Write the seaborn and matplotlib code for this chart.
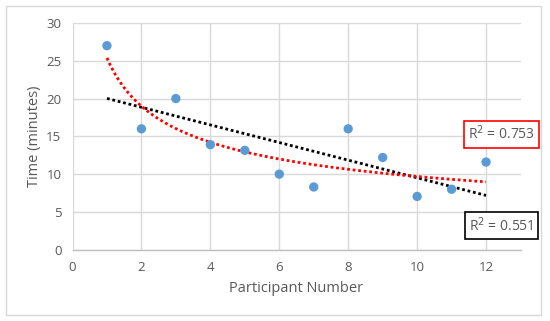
import numpy as np
import pandas as pd
import matplotlib
matplotlib.use("Agg")
import matplotlib.pyplot as plt
from matplotlib.patches import Rectangle
import seaborn as sns

participants = [1, 2, 3, 4, 5, 6, 7, 8, 9, 10, 11, 12]
minutes = [27, 16, 20, 13.9, 13.15, 10, 8.3, 16, 12.2, 7.05, 8.0, 11.6]
x_ticks = [0, 2, 4, 6, 8, 10, 12]
y_ticks = [0, 5, 10, 15, 20, 25, 30]
r2_pow_label = "R$^2$ = 0.753"
r2_lin_label = "R$^2$ = 0.551"

sns.set_theme(style="white")
plt.rcParams['font.family'] = ['Open Sans', 'DejaVu Sans']

df = pd.DataFrame({"Participant Number": participants, "Time (minutes)": minutes})

fig = plt.figure(figsize=(5.5, 3.21), dpi=100)
ax = fig.add_axes([72.5/550, 1-249.7/321, 448/550, (249.7-23)/321])

grid_c = "#D9D9D9"
text_c = "#595959"

xs = np.array(participants, dtype=float)
ys = np.array(minutes, dtype=float)
b, a = np.polyfit(xs, ys, 1)
bp, ap = np.polyfit(np.log(xs), np.log(ys), 1)
xx = np.linspace(1, 12, 200)

ax.plot(xx, a + b*xx, color="black", lw=2, linestyle=(0, (1, 1)), zorder=3)
ax.plot(xx, np.exp(ap) * xx**bp, color="#FF0000", lw=2, linestyle=(0, (1, 1)), zorder=3)

sns.scatterplot(data=df, x="Participant Number", y="Time (minutes)", ax=ax,
                color="#5B9BD5", s=45, edgecolor="none", zorder=4)

ax.set_xlim(0, 13)
ax.set_ylim(0, 30)
ax.set_xticks(x_ticks)
ax.set_yticks(y_ticks)
ax.grid(True, color=grid_c, lw=1)
ax.set_axisbelow(True)
for s in ["top", "right", "left"]:
    ax.spines[s].set_visible(False)
ax.spines["bottom"].set_color("#BFBFBF")
ax.spines["bottom"].set_linewidth(1)
ax.tick_params(axis="both", length=0, labelsize=9.5, colors=text_c, pad=8)
ax.set_xlabel("Participant Number", fontsize=10.5, color=text_c, labelpad=5)
ax.set_ylabel("Time (minutes)", fontsize=10.5, color=text_c, labelpad=3)

ax.text(12.45, 15.3, r2_pow_label, ha="center", va="center", fontsize=10, color=text_c,
        bbox=dict(boxstyle="square,pad=0.3", fc="white", ec="#FF0000", lw=1.2), zorder=5)
ax.text(12.45, 3.2, r2_lin_label, ha="center", va="center", fontsize=10, color=text_c,
        bbox=dict(boxstyle="square,pad=0.3", fc="white", ec="black", lw=1.2), zorder=5)

fig.add_artist(Rectangle((6/550, 1-315/321), 535/550, 309/321, transform=fig.transFigure,
                         fill=False, edgecolor=grid_c, lw=1))

fig.savefig("out.png", dpi=100)
